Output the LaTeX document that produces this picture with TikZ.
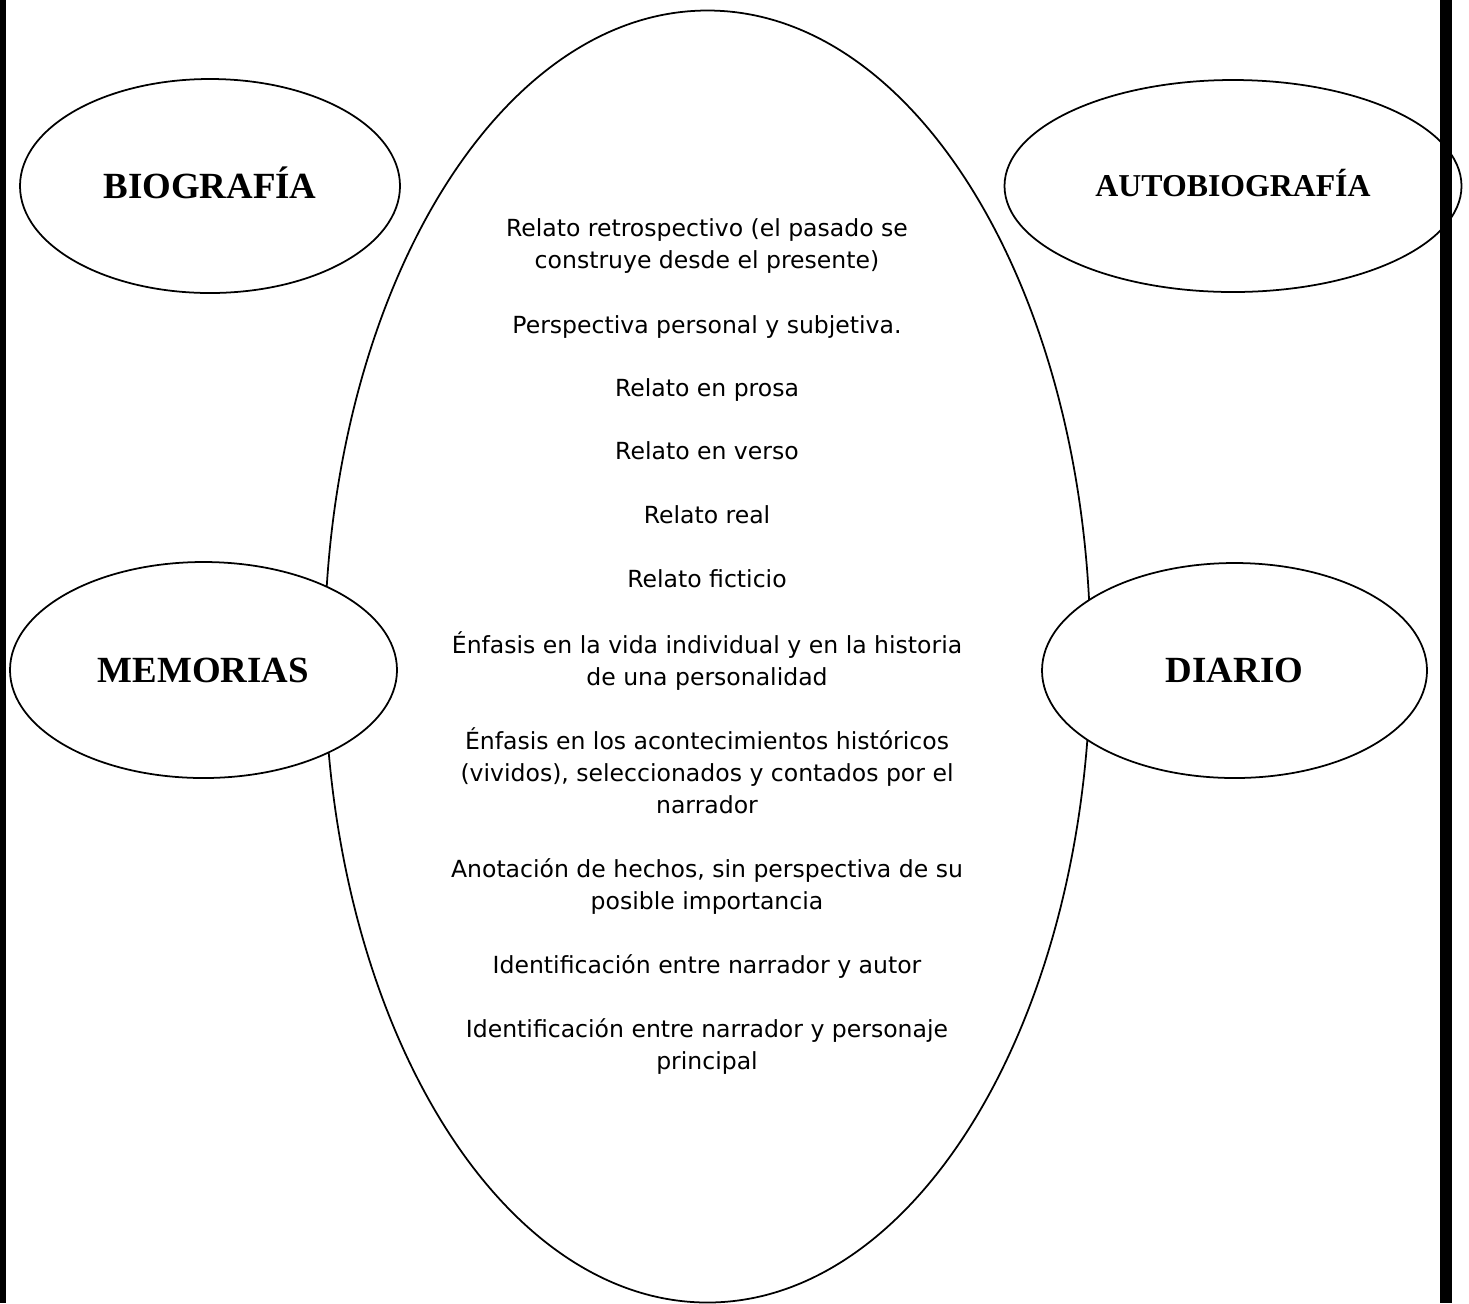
\documentclass[tikz,border=0pt]{standalone}
\usepackage{fontspec}
\setmainfont{Liberation Serif}
\newfontfamily\bodyfont{DejaVu Sans}
\usetikzlibrary{shapes.geometric}
\begin{document}
\begin{tikzpicture}[x=0.02cm,y=-0.02cm,
  oval/.style={ellipse, draw, fill=white, line width=1pt, inner sep=0pt},
  bigword/.style={font=\bfseries\fontsize{21pt}{25pt}\selectfont, text height=13.9pt, text depth=0pt},
  midword/.style={font=\bfseries\fontsize{18.1pt}{21pt}\selectfont, text height=12pt, text depth=0pt},
  body/.style={font=\bodyfont\fontsize{13.4pt}{18.2pt}\selectfont, align=center, anchor=base, inner sep=0pt},
  bar/.style={fill=black}]
\useasboundingbox (0,0) rectangle (1469,1303);
\fill[white] (0,0) rectangle (1469,1303);
% central ellipse
\node[oval, fill=none, minimum width=766*0.02cm, minimum height=1292*0.02cm] (central) at (707.5,656.5) {};
% side ellipses
\node[oval, bigword, minimum width=380*0.02cm, minimum height=214*0.02cm] (bio) at (210,186) {BIOGRAFÍA};
\node[oval, midword, minimum width=457*0.02cm, minimum height=212*0.02cm] (autobio) at (1233,186) {AUTOBIOGRAFÍA};
\node[oval, bigword, minimum width=387*0.02cm, minimum height=216*0.02cm] (mem) at (203.5,670) {MEMORIAS};
\node[oval, bigword, minimum width=385*0.02cm, minimum height=215*0.02cm] (diario) at (1234.5,670.5) {DIARIO};
% texts (base = baseline of last line)
\node[body] (t1) at (707,268) {Relato retrospectivo (el pasado se\\construye desde el presente)};
\node[body] (t2) at (707,333) {Perspectiva personal y subjetiva.};
\node[body] (t3) at (707,396) {Relato en prosa};
\node[body] (t4) at (707,459) {Relato en verso};
\node[body] (t5) at (707,523) {Relato real};
\node[body] (t6) at (707,587) {Relato ficticio};
\node[body] (t7) at (707,685) {Énfasis en la vida individual y en la historia\\de una personalidad};
\node[body] (t8) at (707,813) {Énfasis en los acontecimientos históricos\\(vividos), seleccionados y contados por el\\narrador};
\node[body] (t9) at (707,909) {Anotación de hechos, sin perspectiva de su\\posible importancia};
\node[body] (t10) at (707,973) {Identificación entre narrador y autor};
\node[body] (t11) at (707,1069) {Identificación entre narrador y personaje\\principal};
% page bars
\fill[bar] (0,0) rectangle (6,1303);
\fill[bar] (1440,0) rectangle (1452,1303);
\end{tikzpicture}
\end{document}
